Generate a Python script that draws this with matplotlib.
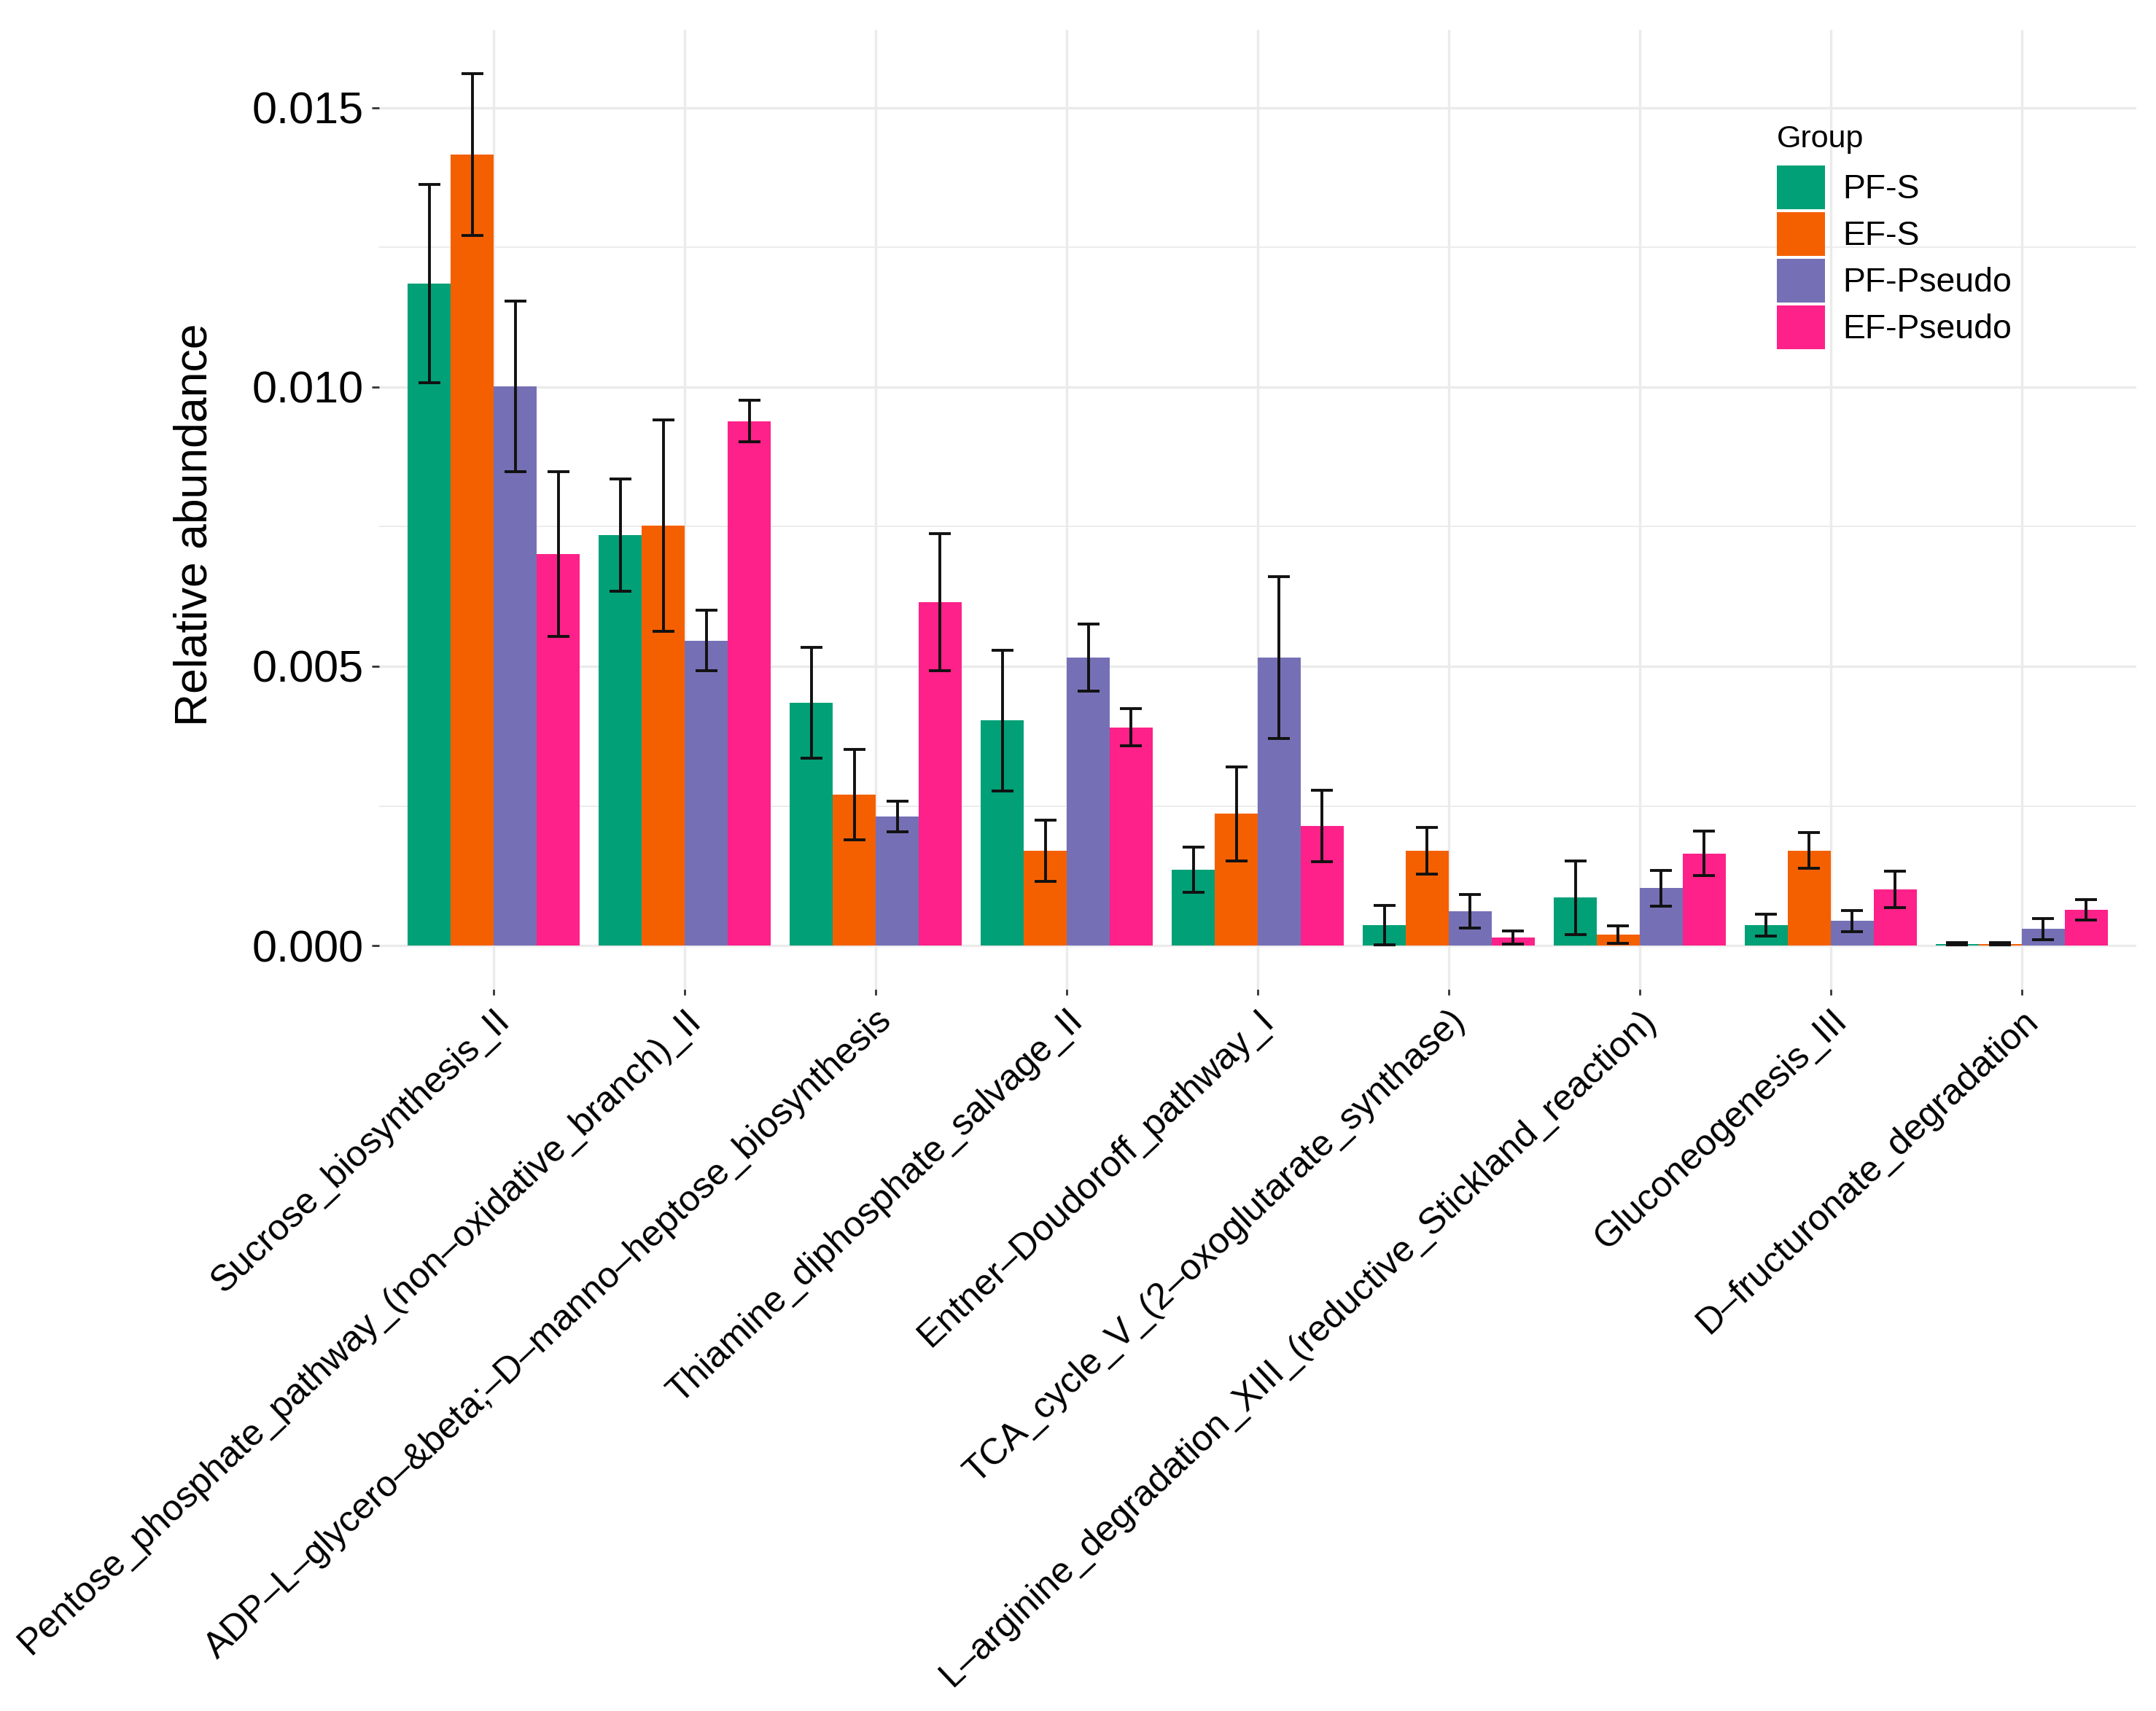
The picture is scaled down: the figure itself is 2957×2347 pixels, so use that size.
import numpy as np
import matplotlib
matplotlib.use("Agg")
import matplotlib.pyplot as plt
import matplotlib.transforms as mtransforms
from matplotlib.patches import Patch

plt.rcParams['font.family'] = ['Liberation Sans', 'DejaVu Sans']

pathways = [
    "Sucrose_biosynthesis_II",
    "Pentose_phosphate_pathway_(non\u2013oxidative_branch)_II",
    "ADP\u2013L\u2013glycero\u2013&beta;\u2013D\u2013manno\u2013heptose_biosynthesis",
    "Thiamine_diphosphate_salvage_II",
    "Entner\u2013Doudoroff_pathway_I",
    "TCA_cycle_V_(2\u2013oxoglutarate_synthase)",
    "L\u2013arginine_degradation_XIII_(reductive_Stickland_reaction)",
    "Gluconeogenesis_III",
    "D\u2013fructuronate_degradation",
]
groups = ["PF-S", "EF-S", "PF-Pseudo", "EF-Pseudo"]
colors = ["#01A077", "#F46000", "#7570B5", "#FE2189"]

# mean relative abundance (x 1e-3)
pf_s      = [11.85, 7.35, 4.35, 4.03, 1.36, 0.37, 0.86, 0.37, 0.03]
ef_s      = [14.16, 7.52, 2.70, 1.70, 2.36, 1.70, 0.20, 1.70, 0.03]
pf_pseudo = [10.01, 5.46, 2.31, 5.16, 5.16, 0.61, 1.03, 0.44, 0.30]
ef_pseudo = [7.01, 9.39, 6.15, 3.91, 2.14, 0.15, 1.65, 1.01, 0.64]

# error bar half-lengths (x 1e-3)
pf_s_err      = [1.78, 1.00, 0.99, 1.26, 0.40, 0.35, 0.66, 0.20, 0.02]
ef_s_err      = [1.45, 1.89, 0.81, 0.55, 0.84, 0.42, 0.16, 0.32, 0.02]
pf_pseudo_err = [1.53, 0.54, 0.27, 0.60, 1.45, 0.30, 0.32, 0.19, 0.19]
ef_pseudo_err = [1.47, 0.37, 1.23, 0.33, 0.64, 0.12, 0.40, 0.33, 0.18]

means = [pf_s, ef_s, pf_pseudo, ef_pseudo]
errs = [pf_s_err, ef_s_err, pf_pseudo_err, ef_pseudo_err]

W, H = 2957, 2347
fig = plt.figure(figsize=(W / 100, H / 100), dpi=100)
ax = fig.add_axes([520 / W, 1 - 1357 / H, (2930 - 520) / W, (1357 - 41) / H])

x = np.arange(len(pathways))
bw = 0.9 / 4
for i, g in enumerate(groups):
    xs = x + (i - 1.5) * bw
    m = np.array(means[i]) / 1000
    e = np.array(errs[i]) / 1000
    ax.bar(xs, m, width=bw, color=colors[i], label=g, zorder=2)
    ax.errorbar(xs, m, yerr=e, fmt='none', ecolor='#111111', elinewidth=2.8,
                capsize=11, capthick=2.8, zorder=3)

ax.set_xlim(-0.6, len(pathways) - 0.4)
ax.set_ylim(-0.00078, 0.01639)
ax.set_yticks([0, 0.005, 0.010, 0.015])
ax.set_yticklabels(["0.000", "0.005", "0.010", "0.015"])
ax.set_yticks([0.0025, 0.0075, 0.0125], minor=True)
ax.set_xticks(x)
ax.set_xticklabels(pathways, rotation=43.3, ha='right', va='top', rotation_mode='anchor')

# nudge the slanted labels a little to the right, as in the original
shift = mtransforms.ScaledTranslation(8 / 100, 0, fig.dpi_scale_trans)
for lab in ax.get_xticklabels():
    lab.set_transform(lab.get_transform() + shift)

ax.grid(True, which='major', color='#EBEBEB', lw=2.4, zorder=0)
ax.grid(True, which='minor', axis='y', color='#EBEBEB', lw=1.3, zorder=0)
ax.set_axisbelow(True)
for s in ax.spines.values():
    s.set_visible(False)

ax.tick_params(axis='y', which='major', labelsize=44, length=7, width=2,
               color='#333333', pad=8, labelcolor='black')
ax.tick_params(axis='x', which='major', labelsize=36, length=6, width=2,
               color='#333333', pad=8, labelcolor='black')
ax.tick_params(axis='y', which='minor', length=0)

fig.text(267 / W, 1 - 720 / H, "Relative abundance", rotation=90,
         ha='center', va='center', fontsize=45)

# legend
fig.text(2437 / W, 1 - 202 / H, "Group", ha='left', va='baseline', fontsize=31)
handles = [Patch(facecolor=c, edgecolor='none') for c in colors]
leg = ax.legend(handles, groups, loc='upper left',
                bbox_to_anchor=(2437 / W, 1 - 227 / H), bbox_transform=fig.transFigure,
                frameon=False, fontsize=33.4,
                handlelength=1.42, handleheight=1.61, labelspacing=0.09,
                handletextpad=0.52, borderpad=0, borderaxespad=0)

fig.savefig("out.png", dpi=100, facecolor='white')
